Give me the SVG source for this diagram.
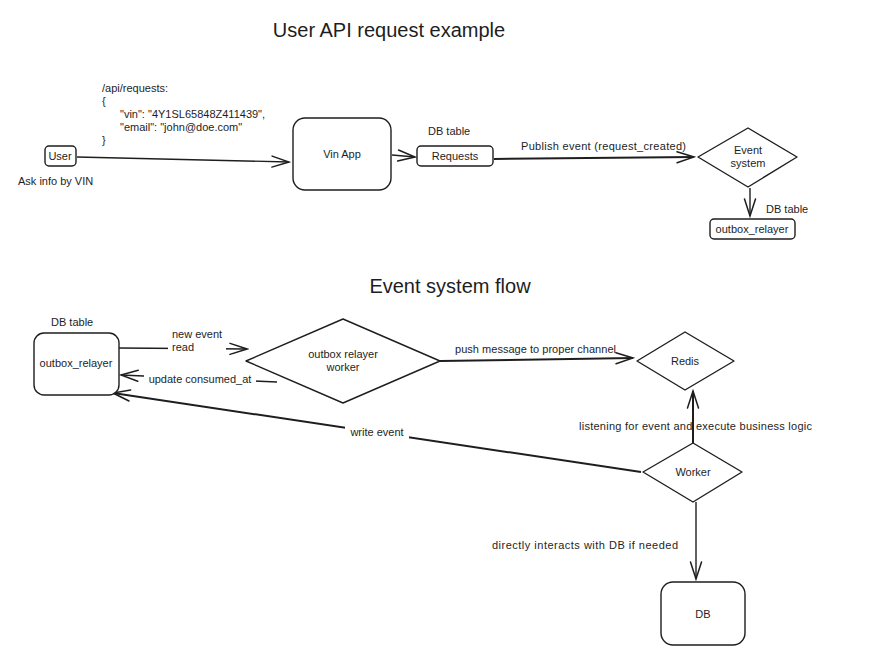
<svg xmlns="http://www.w3.org/2000/svg" width="890" height="657" viewBox="0 0 890 657">
<style>
text{font-family:"Liberation Sans",Arial,sans-serif;fill:#1e1e1e;font-size:11px}
.t{font-size:20px}
.c{text-anchor:middle}
.n{fill:#fff;stroke:#1e1e1e;stroke-width:1.4}
.e{fill:none;stroke:#1e1e1e;stroke-width:1.4}
.w{fill:none;stroke:#1e1e1e;stroke-width:2}
</style>
<defs>
<marker id="a" viewBox="0 0 20 20" refX="18" refY="10" markerWidth="20" markerHeight="20" markerUnits="userSpaceOnUse" orient="auto">
<path d="M1 4.5 L18 10 L1 15.5" fill="none" stroke="#1e1e1e" stroke-width="1.5" stroke-linecap="round"/>
</marker>
</defs>
<rect width="890" height="657" fill="#fff"/>
<text class="t c" x="389" y="37">User API request example</text>
<text class="t c" x="450" y="293">Event system flow</text>
<g id="payload">
<text x="102" y="92">/api/requests:</text>
<text x="102" y="105">{</text>
<text x="120" y="118">"vin": "4Y1SL65848Z411439",</text>
<text x="120" y="131">"email": "john@doe.com"</text>
<text x="102" y="144">}</text>
</g>
<g id="connectors">
<line class="e" x1="77" y1="157" x2="289" y2="162" marker-end="url(#a)"/>
<line class="e" x1="392" y1="155" x2="415" y2="157" marker-end="url(#a)"/>
<line class="w" x1="494" y1="159" x2="694" y2="157" marker-end="url(#a)"/>
<text x="521" y="150" textLength="165">Publish event (request_created)</text>
<line class="e" x1="750" y1="188" x2="750" y2="216" marker-end="url(#a)"/>
<line class="e" x1="119" y1="348" x2="247" y2="349" marker-end="url(#a)"/>
<rect x="168" y="330" width="58" height="24" fill="#fff"/>
<text x="172" y="338">new event</text>
<text x="172" y="351">read</text>
<line class="e" x1="277" y1="382" x2="121" y2="375" marker-end="url(#a)"/>
<rect x="144" y="373" width="112" height="13" fill="#fff"/>
<text class="c" x="200" y="383">update consumed_at</text>
<line class="w" x1="440" y1="361" x2="633" y2="358" marker-end="url(#a)"/>
<text x="455" y="353" textLength="161">push message to proper channel</text>
<line class="w" x1="693" y1="443" x2="693" y2="391" marker-end="url(#a)"/>
<text x="579" y="430" textLength="233">listening for event and execute business logic</text>
<line class="w" x1="641" y1="472" x2="113" y2="393" marker-end="url(#a)"/>
<rect x="345" y="426" width="64" height="13" fill="#fff"/>
<text class="c" x="377" y="436">write event</text>
<line class="e" x1="696" y1="502" x2="696" y2="579" marker-end="url(#a)"/>
<text x="492" y="549" textLength="186">directly interacts with DB if needed</text>
</g>
<g id="user">
<rect class="n" x="45" y="146" width="31" height="20" rx="4"/>
<text class="c" x="60" y="160">User</text>
<text x="18" y="185">Ask info by VIN</text>
</g>
<g id="vin-app">
<rect class="n" x="293" y="118" width="98" height="72" rx="12"/>
<text class="c" x="342" y="158">Vin App</text>
</g>
<g id="requests">
<text x="428" y="135">DB table</text>
<rect class="n" x="417" y="146" width="76" height="20" rx="4"/>
<text class="c" x="455" y="160">Requests</text>
</g>
<g id="event-system">
<path class="n" d="M748 128 L797 157 L748 187 L698 157 Z" stroke-linejoin="round"/>
<text class="c" x="748" y="154">Event</text>
<text class="c" x="748" y="167">system</text>
</g>
<g id="outbox-top">
<text x="766" y="213">DB table</text>
<rect class="n" x="710" y="219" width="85" height="20" rx="4"/>
<text class="c" x="752" y="233">outbox_relayer</text>
</g>
<g id="outbox">
<text x="51" y="326">DB table</text>
<rect class="n" x="34" y="333" width="85" height="62" rx="10"/>
<text class="c" x="76" y="367">outbox_relayer</text>
</g>
<g id="relayer-worker">
<path class="n" d="M343 319 L440 361 L343 403 L246 361 Z" stroke-linejoin="round"/>
<text class="c" x="343" y="358">outbox relayer</text>
<text class="c" x="343" y="371">worker</text>
</g>
<g id="redis">
<path class="n" d="M685 332 L734 361 L685 390 L637 361 Z" stroke-linejoin="round"/>
<text class="c" x="685" y="365">Redis</text>
</g>
<g id="worker">
<path class="n" d="M693 443 L742 472 L693 502 L643 472 Z" stroke-linejoin="round"/>
<text class="c" x="693" y="476">Worker</text>
</g>
<g id="db">
<rect class="n" x="661" y="582" width="84" height="63" rx="12"/>
<text class="c" x="703" y="618">DB</text>
</g>
</svg>
